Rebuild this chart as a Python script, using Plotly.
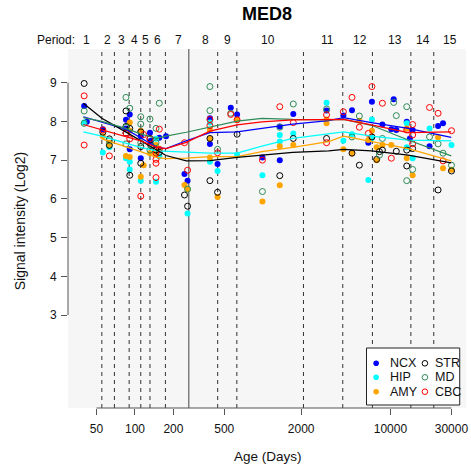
import plotly.graph_objects as go
import numpy as np

# ---------------- data ----------------
REGIONS = ["NCX", "HIP", "AMY", "STR", "MD", "CBC"]

NCX_AGE = [40, 42, 56, 91, 85, 85, 91, 111, 111, 131, 133, 155, 175, 244, 258, 386, 386, 443, 562, 630,
           995, 1360, 1360, 1735, 3160, 4280, 5000, 6710, 7160, 8650, 10600, 10160, 11120, 13410, 14200,
           14920, 20230, 23600, 25800]
NCX_VAL = [8.40, 7.99, 7.80, 8.18, 8.04, 7.82, 7.28, 7.62, 7.05, 7.71, 7.50, 7.58, 7.62, 6.64, 6.47, 8.08, 7.42,
           6.90, 8.35, 8.18, 7.07, 7.87, 7.00, 8.19, 8.28, 8.15, 8.29, 7.45, 8.51, 7.92, 8.57, 7.80, 7.78,
           7.99, 7.56, 7.78, 7.36, 7.88, 7.95]

HIP_AGE = [40, 56, 63, 85, 91, 91, 111, 146, 155, 146, 258, 386, 386, 443, 630, 995, 1360, 1360, 1735, 3160,
           4280, 5000, 6710, 7160, 7160, 13410, 13410, 14920, 20230, 30060]
HIP_VAL = [7.97, 7.20, 7.33, 7.05, 6.96, 6.76, 6.47, 7.55, 7.10, 6.44, 5.62, 7.97, 6.96, 6.72, 7.13, 6.61, 7.65,
           7.48, 7.69, 8.48, 7.50, 7.67, 6.49, 8.05, 7.57, 7.95, 7.33, 7.05, 7.82, 7.39]

AMY_AGE = [56, 63, 63, 91, 91, 85, 91, 111, 117, 111, 131, 146, 155, 146, 244, 258, 386, 386, 386, 443, 630,
           995, 1360, 1360, 1735, 3160, 3160, 4280, 5000, 5710, 6710, 7160, 7800, 7800, 8650, 10160, 13410,
           13410, 14920, 23600, 25800, 30060]
AMY_VAL = [7.62, 7.45, 7.40, 7.97, 7.76, 7.11, 7.08, 7.76, 6.87, 6.57, 7.18, 7.39, 7.28, 7.17, 6.36, 6.25, 7.78,
           7.55, 7.07, 6.05, 8.04, 5.93, 7.36, 6.35, 7.39, 8.05, 7.95, 7.28, 7.17, 8.02, 7.52, 7.76, 7.33,
           7.00, 7.39, 7.39, 7.82, 7.05, 6.61, 7.59, 6.79, 6.75]

STR_AGE = [40, 56, 63, 63, 85, 85, 91, 85, 91, 111, 111, 111, 131, 133, 146, 155, 244, 258, 386, 386, 443, 630,
           1360, 1735, 3160, 5000, 5710, 7160, 7800, 8200, 8650, 11120, 13410, 13410, 14920, 23600, 30060]
STR_VAL = [8.98, 7.72, 7.55, 7.38, 8.27, 7.87, 7.82, 7.70, 6.61, 7.73, 7.35, 6.92, 7.56, 7.38, 7.26, 7.20, 6.10,
           5.81, 7.56, 6.47, 6.17, 7.67, 6.60, 7.56, 7.56, 7.18, 6.87, 7.60, 7.02, 7.22, 7.26, 7.23, 7.26,
           6.85, 7.30, 6.23, 6.72]

MD_AGE = [40, 40, 63, 85, 91, 85, 85, 111, 111, 111, 131, 131, 155, 146, 146, 258, 386, 386, 443, 562, 995,
          1360, 1735, 3160, 5000, 5710, 8200, 8650, 10600, 11120, 13410, 13410, 14920, 20230, 23600, 25800,
          30060]
MD_VAL = [8.27, 7.95, 7.50, 8.62, 8.34, 7.85, 7.42, 8.12, 7.93, 7.45, 8.06, 7.26, 8.47, 7.82, 7.45, 6.25, 8.90,
          8.28, 7.28, 8.21, 6.19, 7.85, 8.45, 8.32, 7.60, 8.14, 7.13, 7.56, 8.49, 8.15, 8.38, 6.47, 6.76,
          7.60, 7.42, 7.18, 6.87]

CBC_AGE = [40, 40, 56, 63, 85, 91, 117, 111, 131, 155, 155, 146, 146, 146, 146, 244, 258, 386, 386, 443, 562,
           630, 995, 1360, 1735, 3160, 3160, 4280, 5000, 5710, 6710, 7160, 8650, 10160, 13410, 14920, 14920,
           14920, 20230, 23600, 25800, 30060]
CBC_VAL = [8.66, 7.39, 7.78, 7.11, 7.70, 7.55, 7.66, 6.07, 7.55, 7.80, 7.28, 7.18, 7.02, 6.92, 6.55, 7.45, 6.74,
           8.05, 7.89, 7.19, 8.18, 8.04, 7.00, 8.38, 7.97, 8.17, 7.45, 8.25, 8.62, 7.85, 7.69, 8.90, 8.47,
           7.05, 7.78, 7.92, 7.65, 7.42, 8.36, 8.21, 6.98, 7.76]

# smoothed trend per region
CURVE_AGE = [39.4, 55, 84.5, 110.7, 147.5, 175, 252, 386, 630, 986, 1720, 3280, 4300, 7100, 13770, 29900]
NCX_FIT = [8.12, 7.98, 7.80, 7.58, 7.33, 7.30, 7.50, 7.71, 7.73, 7.82, 7.93, 8.02, 8.10, 7.97, 7.82, 7.59]
HIP_FIT = [7.73, 7.62, 7.44, 7.33, 7.24, 7.23, 7.22, 7.18, 7.18, 7.36, 7.56, 7.68, 7.73, 7.62, 7.52, 7.50]
AMY_FIT = [None, 7.55, 7.35, 7.22, 7.07, 7.04, 7.05, 7.09, 7.09, 7.22, 7.33, 7.48, 7.62, 7.48, 7.30, 6.98]
STR_FIT = [8.47, 8.08, 7.73, 7.50, 7.25, 7.12, 6.98, 6.99, 7.07, 7.13, 7.20, 7.24, 7.28, 7.24, 7.13, 6.93]
MD_FIT = [8.10, 8.00, 7.82, 7.68, 7.56, 7.62, 7.72, 7.86, 8.01, 8.08, 8.05, 8.04, 8.05, 7.90, 7.52, 7.11]
CBC_FIT = [7.92, 7.79, 7.62, 7.50, 7.33, 7.30, 7.46, 7.75, 7.91, 7.99, 8.04, 8.05, 8.05, 7.91, 7.71, 7.73]

# period boundaries (days); the birth line is drawn solid
PERIOD_BOUNDS = [55, 69, 90, 111, 131, 173, 264, 444, 627, 2085, 4233, 7224, 14450, 21840]
BIRTH_DAY = 264
PERIOD_NAMES = [str(i) for i in range(1, 16)]
PERIOD_LABEL_DAYS = [41.8, 60.9, 78.7, 99.4, 120.4, 150.1, 218.7, 354.9, 526.6, 1098, 3222, 5792, 10850,
                     18030, 29090]

X_TICKS = [50, 100, 200, 500, 2000, 10000, 30000]
Y_TICKS = [3, 4, 5, 6, 7, 8, 9]

# ---------------- styling ----------------
COLORS = {"NCX": "#0000FF", "HIP": "#00FFFF", "AMY": "#FFA500",
          "STR": "#000000", "MD": "#2E8B57", "CBC": "#FF0000"}
FILLED = {"NCX": True, "HIP": True, "AMY": True, "STR": False, "MD": False, "CBC": False}

W, H = 471, 471
L, R, T, B = 68, 468, 49, 408          # plot area in pixels
XR = [1.4755, 4.5915]                   # log10 range
YR = [0.60, 9.87]
FONT = "Liberation Sans, Arial, Helvetica, sans-serif"


def px_x(p):
    return (p - L) / (R - L)


def px_y(p):
    return (B - p) / (B - T)


points = {
    "NCX": (NCX_AGE, NCX_VAL), "HIP": (HIP_AGE, HIP_VAL), "AMY": (AMY_AGE, AMY_VAL),
    "STR": (STR_AGE, STR_VAL), "MD": (MD_AGE, MD_VAL), "CBC": (CBC_AGE, CBC_VAL),
}
fits = {"NCX": NCX_FIT, "HIP": HIP_FIT, "AMY": AMY_FIT, "STR": STR_FIT, "MD": MD_FIT, "CBC": CBC_FIT}

fig = go.Figure()

for reg in REGIONS:
    ages, vals = points[reg]
    c = COLORS[reg]
    if FILLED[reg]:
        marker = dict(symbol="circle", size=6, color=c, line=dict(width=0))
    else:
        marker = dict(symbol="circle-open", size=6, color=c, line=dict(width=1, color=c))
    fig.add_trace(go.Scatter(x=ages, y=vals, mode="markers", marker=marker,
                             name=reg, showlegend=False, hoverinfo="x+y+name"))

for reg in REGIONS:
    fa = [a for a, v in zip(CURVE_AGE, fits[reg]) if v is not None]
    fv = [v for v in fits[reg] if v is not None]
    fig.add_trace(go.Scatter(x=fa, y=fv, mode="lines", line=dict(color=COLORS[reg], width=1.25),
                             name=reg + " trend", showlegend=False, hoverinfo="skip"))

shapes = []
for d in PERIOD_BOUNDS:
    solid = d == BIRTH_DAY
    shapes.append(dict(type="line", xref="x", yref="paper", x0=d, x1=d, y0=0, y1=1, layer="below",
                       line=dict(color="#444444" if solid else "#333333", width=1,
                                 dash="solid" if solid else "4px,4px")))

# axis lines spanning the tick range only
shapes.append(dict(type="line", xref="x", yref="paper", x0=X_TICKS[0], x1=X_TICKS[-1], y0=0, y1=0,
                   line=dict(color="#555555", width=1)))
shapes.append(dict(type="line", xref="paper", yref="y", x0=0, x1=0, y0=Y_TICKS[0], y1=Y_TICKS[-1],
                   line=dict(color="#555555", width=1)))

# legend box
shapes.append(dict(type="rect", xref="paper", yref="paper", x0=px_x(368), x1=px_x(461.7),
                   y0=px_y(405), y1=px_y(348), fillcolor="white", line=dict(color="#222222", width=1),
                   layer="above"))

annotations = []
legend_cols = [(377.7, 390, ["NCX", "HIP", "AMY"]), (426.7, 435, ["STR", "MD", "CBC"])]
rows_y = [363.3, 377.3, 391.7]
for mx, tx, regs in legend_cols:
    for ry, reg in zip(rows_y, regs):
        c = COLORS[reg]
        r = 2.8
        shapes.append(dict(type="circle", xref="paper", yref="paper", xsizemode="pixel", ysizemode="pixel",
                           xanchor=px_x(mx), yanchor=px_y(ry), x0=-r, x1=r, y0=-r, y1=r, layer="above",
                           fillcolor=c if FILLED[reg] else "rgba(0,0,0,0)",
                           line=dict(color=c, width=0 if FILLED[reg] else 1)))
        annotations.append(dict(text=reg, xref="paper", yref="paper", x=px_x(tx), y=px_y(ry),
                                xanchor="left", yanchor="middle", showarrow=False,
                                font=dict(size=12.5, color="#111111", family=FONT)))

# period labels along the top
annotations.append(dict(text="Period:", xref="paper", yref="paper", x=px_x(77.5), y=px_y(40),
                        xanchor="right", yanchor="middle", showarrow=False,
                        font=dict(size=12, color="#111111", family=FONT)))
for name, d in zip(PERIOD_NAMES, PERIOD_LABEL_DAYS):
    annotations.append(dict(text=name, xref="x", yref="paper", x=np.log10(d), y=px_y(40),
                            xanchor="center", yanchor="middle", showarrow=False,
                            font=dict(size=12, color="#111111", family=FONT)))

# title and axis titles
annotations.append(dict(text="<b>MED8</b>", xref="paper", yref="paper", x=px_x(268), y=px_y(14),
                        xanchor="center", yanchor="middle", showarrow=False,
                        font=dict(size=18, color="#000000", family=FONT)))
annotations.append(dict(text="Age (Days)", xref="paper", yref="paper", x=px_x(269), y=px_y(456),
                        xanchor="center", yanchor="middle", showarrow=False,
                        font=dict(size=13.5, color="#111111", family=FONT)))
annotations.append(dict(text="Signal intensity (Log2)", xref="paper", yref="paper", x=px_x(20),
                        y=px_y(221), xanchor="center", yanchor="middle", textangle=-90, showarrow=False,
                        font=dict(size=14, color="#111111", family=FONT)))

fig.update_layout(
    width=W, height=H,
    margin=dict(l=L, r=W - R, t=T, b=H - B),
    paper_bgcolor="white", plot_bgcolor="#F6F6F6",
    font=dict(family=FONT, size=12, color="#111111"),
    shapes=shapes, annotations=annotations, showlegend=False,
    xaxis=dict(type="log", range=XR, tickvals=X_TICKS, ticktext=[str(t) for t in X_TICKS],
               ticks="outside", ticklen=6, tickcolor="#555555", showgrid=False, zeroline=False,
               showline=False, ticklabelstandoff=4, tickfont=dict(size=12, color="#111111")),
    yaxis=dict(range=YR, tickvals=Y_TICKS, ticks="outside", ticklen=6, tickcolor="#555555",
               showgrid=False, zeroline=False, showline=False, ticklabelstandoff=2,
               tickfont=dict(size=12, color="#111111")),
)

fig.write_html("out.html")
